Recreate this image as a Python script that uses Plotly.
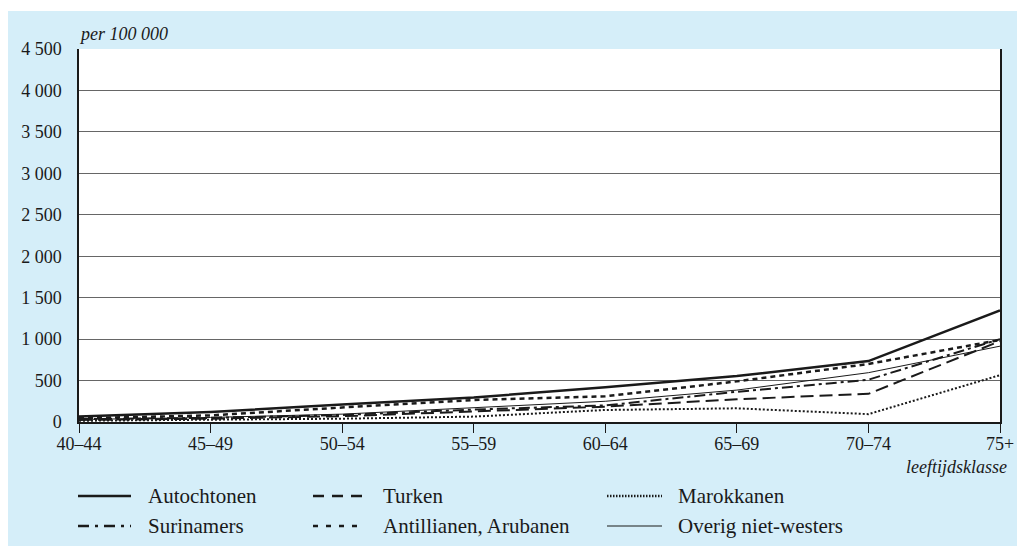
import plotly.graph_objects as go

# age classes (x axis)
age_groups = ["40–44", "45–49", "50–54", "55–59", "60–64", "65–69", "70–74", "75+"]

# rates per 100 000
autochtonen = [65, 120, 210, 295, 420, 555, 735, 1345]
turken = [25, 40, 70, 130, 185, 275, 340, 975]
marokkanen = [15, 25, 40, 65, 145, 165, 95, 565]
surinamers = [35, 50, 85, 150, 200, 365, 510, 1000]
antillianen = [45, 80, 175, 265, 310, 490, 700, 990]
overig = [30, 55, 95, 175, 250, 385, 595, 915]

y_ticks = [0, 500, 1000, 1500, 2000, 2500, 3000, 3500, 4000, 4500]

FONT = "Liberation Serif"
INK = "#1a1a1a"
BLUE = "#d5eef9"

W, H = 1017, 546
# plot area in page pixels
L, R, T, B = 79, 1000, 49, 422


def px(x):
    return (x - L) / (R - L)


def py(y):
    return (B - y) / (B - T)


# name, values, width, dash in plot, dash in legend key, legend col, legend row
series = [
    ("Autochtonen", autochtonen, 2.5, "solid", "solid", 0, 0),
    ("Turken", turken, 2, "13px,6px", "11px,8px", 1, 0),
    ("Marokkanen", marokkanen, 2, "2px,2px", "1.5px,1.5px", 2, 0),
    ("Surinamers", surinamers, 2, "11px,4px,3px,4px", "11px,6px,3px,6px", 0, 1),
    ("Antillianen, Arubanen", antillianen, 2.5, "5px,4px", "5px,8px", 1, 1),
    ("Overig niet-westers", overig, 1, "solid", "solid", 2, 1),
]

legend_cols = [(78, 131, 146), (313, 362, 381), (607, 662, 676)]
legend_rows = [496, 526]

fig = go.Figure()
shapes = [
    # white margins above and left of the blue panel
    dict(type="rect", xref="paper", yref="paper", x0=-1, x1=2, y0=py(11), y1=py(-10),
         fillcolor="white", line=dict(width=0), layer="below"),
    dict(type="rect", xref="paper", yref="paper", x0=px(-10), x1=px(8), y0=py(560), y1=py(-10),
         fillcolor="white", line=dict(width=0), layer="below"),
]
annotations = []

for name, vals, w, dash, key_dash, col, row in series:
    fig.add_trace(go.Scatter(
        x=age_groups, y=vals, name=name, mode="lines",
        line=dict(color=INK, width=w, dash=dash),
        showlegend=False,
    ))
    x0, x1, xt = legend_cols[col]
    yy = py(legend_rows[row])
    kw = 1.2 if w == 1 else 2.5
    shapes.append(dict(type="line", xref="paper", yref="paper",
                       x0=px(x0), x1=px(x1), y0=yy, y1=yy,
                       line=dict(color=INK, width=kw, dash=key_dash)))
    annotations.append(dict(text=name, xref="paper", yref="paper", x=px(xt), y=yy,
                            xanchor="left", yanchor="middle", showarrow=False,
                            font=dict(family=FONT, size=21, color=INK)))

annotations.append(dict(text="per 100 000", xref="paper", yref="paper", x=px(77), y=py(46),
                        xanchor="left", yanchor="bottom", showarrow=False,
                        font=dict(family=FONT, size=18, color=INK, style="italic")))
annotations.append(dict(text="leeftijdsklasse", xref="paper", yref="paper", x=px(1009), y=py(467),
                        xanchor="right", yanchor="middle", showarrow=False,
                        font=dict(family=FONT, size=18, color=INK, style="italic")))

fig.update_layout(
    width=W, height=H,
    margin=dict(l=L, r=W - R, t=T, b=H - B, autoexpand=False),
    paper_bgcolor=BLUE,
    plot_bgcolor="white",
    separators=", ",
    font=dict(family=FONT, size=18, color=INK),
    shapes=shapes,
    annotations=annotations,
    xaxis=dict(
        type="category", range=[0, len(age_groups) - 1],
        showgrid=False, zeroline=False, automargin=False,
        showline=True, linecolor=INK, linewidth=1.5,
        ticks="outside", ticklen=9, tickcolor=INK, tickwidth=1,
        ticklabelstandoff=-4,
        tickfont=dict(family=FONT, size=18, color=INK),
    ),
    yaxis=dict(
        range=[0, 4500], tickvals=y_ticks, tickformat=",d",
        showgrid=True, gridcolor="#666666", gridwidth=1.2,
        zeroline=False, automargin=False,
        showline=True, linecolor=INK, linewidth=1.5, mirror=True,
        ticks="", ticklabelstandoff=12,
        tickfont=dict(family=FONT, size=18, color=INK),
    ),
)

# page without body margin so the figure fills the window
fig.write_html("out.html", config={"displayModeBar": False},
               post_script="document.body.style.margin='0';document.body.style.overflow='hidden';")
